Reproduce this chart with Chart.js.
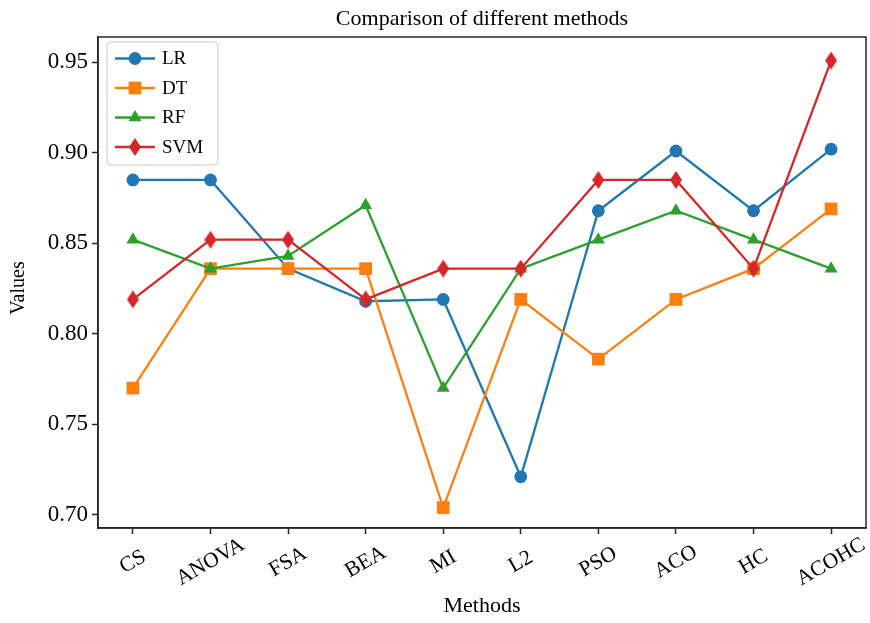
<!DOCTYPE html>
<html lang="en">
<head>
<meta charset="UTF-8">
<title>Comparison of different methods</title>
<script src="https://cdn.jsdelivr.net/npm/chart.js@4.4.0/dist/chart.umd.min.js"></script>
<style>
  html, body { margin: 0; padding: 0; background: #fff; }
  #wrap { width: 870px; height: 623px; }
</style>
</head>
<body>
<div id="wrap"><canvas id="myChart" width="870" height="623"></canvas></div>
<script>
// data
const methods   = ['CS', 'ANOVA', 'FSA', 'BEA', 'MI', 'L2', 'PSO', 'ACO', 'HC', 'ACOHC'];
const lrValues  = [0.885, 0.885, 0.836, 0.818, 0.819, 0.721, 0.868, 0.901, 0.868, 0.902];
const dtValues  = [0.770, 0.836, 0.836, 0.836, 0.704, 0.819, 0.786, 0.819, 0.836, 0.869];
const rfValues  = [0.852, 0.836, 0.843, 0.871, 0.770, 0.836, 0.852, 0.868, 0.852, 0.836];
const svmValues = [0.819, 0.852, 0.852, 0.819, 0.836, 0.836, 0.885, 0.885, 0.836, 0.951];
const yTicks    = [0.70, 0.75, 0.80, 0.85, 0.90, 0.95];

const FONT = "'Liberation Serif', 'Times New Roman', serif";
const AXIS = '#262626';

// thin diamond marker (matplotlib 'd')
function diamondImage(color, w, h) {
  const c = document.createElement('canvas');
  c.width = w; c.height = h;
  const g = c.getContext('2d');
  g.fillStyle = color;
  g.beginPath();
  g.moveTo(w / 2, 0); g.lineTo(w, h / 2); g.lineTo(w / 2, h); g.lineTo(0, h / 2);
  g.closePath();
  g.fill();
  return c;
}

const series = [
  { label: 'LR',  values: lrValues,  color: '#1f77b4', style: 'circle',   radius: 6.4, order: 3 },
  { label: 'DT',  values: dtValues,  color: '#ff7f0e', style: 'rect',     radius: 9,   order: 2 },
  { label: 'RF',  values: rfValues,  color: '#2ca02c', style: 'triangle', radius: 7.5, order: 1 },
  { label: 'SVM', values: svmValues, color: '#d62728', style: diamondImage('#d62728', 12, 18), radius: 8, order: 0 }
];

function drawMarker(ctx, s, x, y) {
  ctx.fillStyle = s.color;
  const r = s.radius;
  if (s.style === 'circle') {
    ctx.beginPath(); ctx.arc(x, y, r, 0, Math.PI * 2); ctx.fill();
  } else if (s.style === 'rect') {
    const h = r * Math.SQRT1_2;
    ctx.fillRect(x - h, y - h, 2 * h, 2 * h);
  } else if (s.style === 'triangle') {
    ctx.beginPath();
    for (let k = 0; k < 3; k++) {
      const a = k * 2 * Math.PI / 3;
      ctx.lineTo(x + Math.sin(a) * r, y - Math.cos(a) * r);
    }
    ctx.closePath(); ctx.fill();
  } else {
    ctx.drawImage(s.style, x - s.style.width / 2, y - s.style.height / 2);
  }
}

// title, frame, axis labels and the in-plot legend
const extras = {
  id: 'extras',
  afterDraw(chart) {
    const { ctx, chartArea: a, scales } = chart;
    const cx = (a.left + a.right) / 2;
    ctx.save();
    ctx.strokeStyle = AXIS;
    ctx.lineWidth = 1.5;
    ctx.strokeRect(a.left, a.top, a.right - a.left, a.bottom - a.top);

    ctx.fillStyle = '#000';
    ctx.textAlign = 'center';
    ctx.textBaseline = 'middle';
    ctx.font = '22px ' + FONT;
    ctx.fillText('Comparison of different methods', cx, 19);
    ctx.fillText('Methods', cx, 606);

    ctx.save();
    ctx.translate(19, 288);
    ctx.rotate(-Math.PI / 2);
    ctx.font = '20px ' + FONT;
    ctx.fillText('Values', 0, 0);
    ctx.restore();

    ctx.font = '21.5px ' + FONT;
    methods.forEach((m, i) => {
      const x = scales.x.getPixelForValue(i);
      ctx.save();
      ctx.translate(x, a.bottom + 34);
      ctx.rotate(-Math.PI / 6);
      ctx.fillText(m, 0, 0);
      ctx.restore();
    });

    // legend box
    const bx = a.left + 9, by = a.top + 5, bw = 111, bh = 123;
    ctx.beginPath();
    ctx.roundRect(bx, by, bw, bh, 4);
    ctx.fillStyle = 'rgba(255,255,255,0.8)';
    ctx.fill();
    ctx.strokeStyle = '#cccccc';
    ctx.lineWidth = 1;
    ctx.stroke();

    ctx.font = '19px ' + FONT;
    ctx.textAlign = 'left';
    series.forEach((s, i) => {
      const y = by + 16.5 + i * 29.5;
      ctx.strokeStyle = s.color;
      ctx.lineWidth = 2.3;
      ctx.beginPath(); ctx.moveTo(bx + 8, y); ctx.lineTo(bx + 48, y); ctx.stroke();
      drawMarker(ctx, s, bx + 28, y);
      ctx.fillStyle = '#000';
      ctx.fillText(s.label, bx + 55, y + 1);
    });
    ctx.restore();
  }
};

const ctx = document.getElementById('myChart');
const myChart = new Chart(ctx, {
  type: 'line',
  data: {
    datasets: series.map(s => ({
      label: s.label,
      data: s.values.map((v, i) => ({ x: i, y: v })),
      borderColor: s.color,
      backgroundColor: s.color,
      borderWidth: 2.3,
      tension: 0,
      pointStyle: s.style,
      pointRadius: s.radius,
      pointBackgroundColor: s.color,
      pointBorderColor: s.color,
      pointBorderWidth: 0,
      order: s.order
    }))
  },
  options: {
    responsive: false,
    animation: false,
    devicePixelRatio: 1,
    layout: { autoPadding: false, padding: { left: 0, right: 4, top: 37, bottom: 0 } },
    plugins: {
      legend: { display: false },
      tooltip: { enabled: false },
      title: { display: false }
    },
    scales: {
      x: {
        type: 'linear',
        min: -0.45,
        max: 9.45,
        afterBuildTicks: s => { s.ticks = methods.map((m, i) => ({ value: i })); },
        afterFit: s => { s.height = 95; },
        ticks: { display: false },
        grid: { drawOnChartArea: false, drawTicks: true, tickLength: 6, tickWidth: 1.5, tickColor: AXIS },
        border: { display: true, color: AXIS, width: 1.5 }
      },
      y: {
        min: 0.6927,
        max: 0.964,
        afterBuildTicks: s => { s.ticks = yTicks.map(v => ({ value: v })); },
        afterFit: s => { s.width = 98; },
        ticks: {
          callback: v => v.toFixed(2),
          color: '#000',
          font: { family: FONT, size: 23 },
          padding: 4
        },
        grid: { drawOnChartArea: false, drawTicks: true, tickLength: 6, tickWidth: 1.5, tickColor: AXIS },
        border: { display: true, color: AXIS, width: 1.5 }
      }
    }
  },
  plugins: [extras]
});
</script>
</body>
</html>
